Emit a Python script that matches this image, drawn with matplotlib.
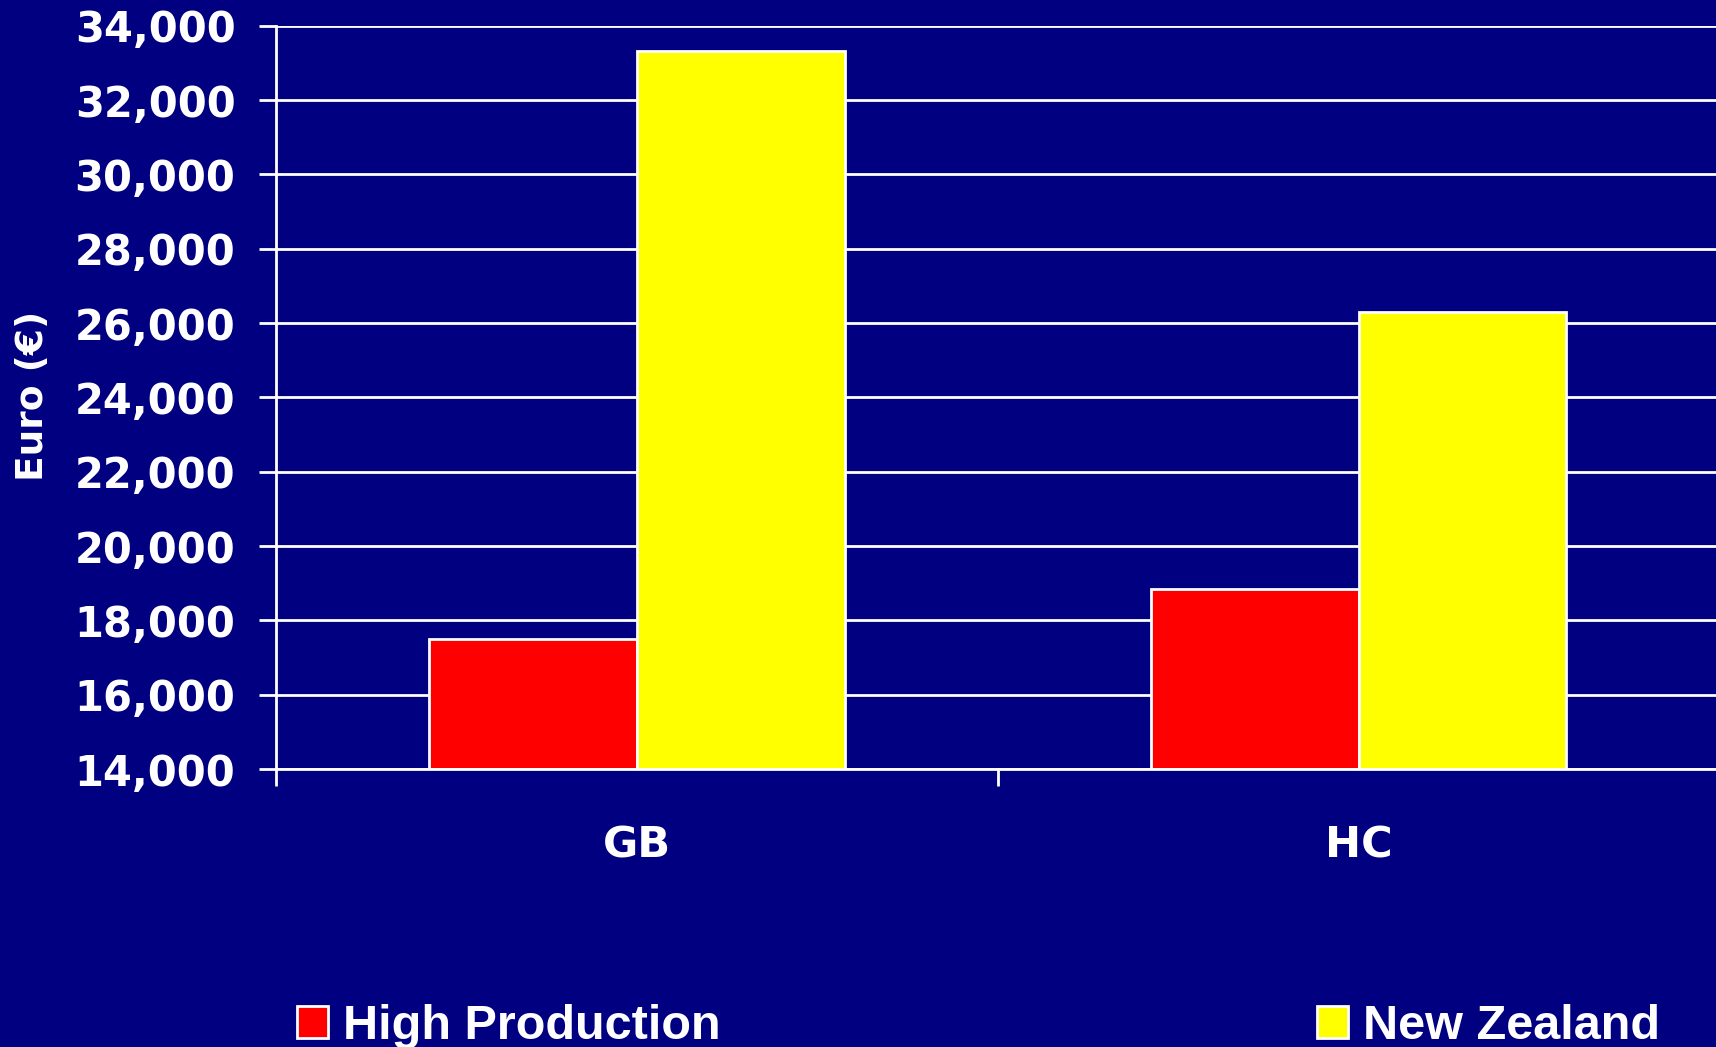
import matplotlib
matplotlib.use("Agg")
import matplotlib.pyplot as plt
import numpy as np
from matplotlib.ticker import FuncFormatter, MultipleLocator, FixedLocator

categories = ["GB", "HC"]
series_names = ["High Production", "New Zealand"]
high_production = [17500, 18830]
new_zealand = [33330, 26290]
colors = ["#FF0000", "#FFFF00"]
bg = "#000080"

fig = plt.figure(figsize=(17.16, 10.47), dpi=100, facecolor=bg)
ax = fig.add_axes([276/1716, 1-769/1047, 1-276/1716+0.002, (769-25.7)/1047])
ax.set_facecolor(bg)

x = np.arange(len(categories))
w = 0.288
for i, (vals, name) in enumerate(zip([high_production, new_zealand], series_names)):
    ax.bar(x + (i - 0.5) * w, np.array(vals) - 14000, bottom=14000, width=w,
           color=colors[i], edgecolor="white", linewidth=2, label=name, zorder=3)

ax.set_ylim(14000, 34000)
ax.set_xlim(-0.5, 1.5)
ax.yaxis.set_major_locator(MultipleLocator(2000))
ax.yaxis.set_major_formatter(FuncFormatter(lambda v, p: f"{int(v):,}"))
ax.grid(axis="y", color="white", linewidth=2, zorder=0)
ax.set_axisbelow(True)

for s in ["top", "right"]:
    ax.spines[s].set_visible(False)
for s in ["left", "bottom"]:
    ax.spines[s].set_color("white")
    ax.spines[s].set_linewidth(2)
    ax.spines[s].set_zorder(4)

ax.set_xticks(x)
ax.set_xticklabels(categories)
ax.xaxis.set_minor_locator(FixedLocator([-0.5, 0.5, 1.5]))
ax.tick_params(axis="x", which="major", length=0, pad=40)
ax.tick_params(axis="x", which="minor", length=12.2, width=2, color="white", direction="out")
ax.tick_params(axis="y", which="major", length=12.2, width=2, color="white", direction="out", pad=17)

for lab in ax.get_yticklabels():
    lab.set_fontfamily("DejaVu Sans")
    lab.set_fontweight("bold")
    lab.set_fontsize(30)
    lab.set_color("white")
for lab in ax.get_xticklabels():
    lab.set_fontfamily("DejaVu Sans")
    lab.set_fontweight("bold")
    lab.set_fontsize(31)
    lab.set_color("white")

fig.text(33/1716, 1-396/1047, "Euro (€)", rotation=90, ha="center", va="center",
         fontsize=27, fontweight="bold", color="white", family="DejaVu Sans")

handles, labels = ax.get_legend_handles_labels()
leg = fig.legend(handles, labels, loc="upper left", bbox_to_anchor=(297/1716, 1-1004/1047),
                 ncol=2, frameon=False, borderpad=0, borderaxespad=0,
                 handlelength=0.64, handleheight=0.64, handletextpad=0.31,
                 columnspacing=12.26,
                 prop={"family": "Liberation Sans", "weight": "bold", "size": 35})
for t in leg.get_texts():
    t.set_color("white")

fig.savefig("out.png", dpi=100, facecolor=bg)
